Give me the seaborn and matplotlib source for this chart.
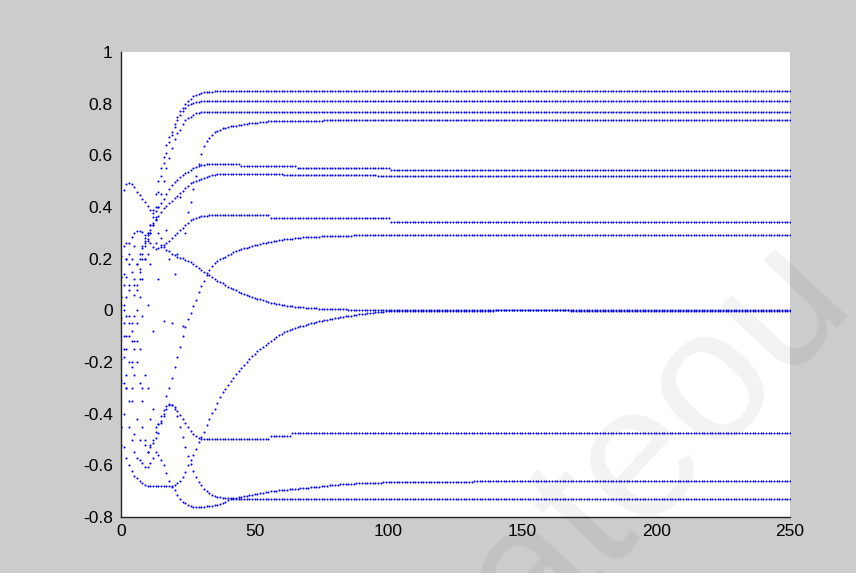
import numpy as np
import pandas as pd
import matplotlib
matplotlib.use("Agg")
import matplotlib.pyplot as plt
from matplotlib.ticker import FuncFormatter
import seaborn as sns

# ---------------- data ----------------
last_step = 250

s1_trans = [0.21, 0.02, -0.15, 0.08, -0.05, 0.12, 0.18, 0.05, 0.22, 0.28, 0.30, 0.33,
            0.39, 0.45, 0.50, 0.55, 0.595, 0.64, 0.67, 0.69, 0.72, 0.75, 0.77, 0.785,
            0.80, 0.81, 0.82, 0.828, 0.835, 0.839, 0.842, 0.844, 0.845, 0.846, 0.847]
s1_hold = [(0.848, 250)]

s2_trans = [-0.03, 0.14, 0.26, -0.1, 0.2, -0.02, 0.1, 0.16, 0.24, 0.2, 0.27,
            0.30, 0.34, 0.40, 0.46, 0.52, 0.57, 0.61, 0.65, 0.68, 0.71, 0.735, 0.755,
            0.772, 0.785, 0.795, 0.80, 0.803, 0.806, 0.808, 0.809, 0.81]
s2_hold = [(0.811, 250)]

s3_trans = [0.13, -0.28, 0.05, 0.18, -0.08, 0.25, 0.08, 0.2, 0.12, 0.25, 0.22, 0.3, 0.33, 0.36,
            0.40, 0.45, 0.50, 0.55, 0.59, 0.63, 0.665, 0.685, 0.70, 0.72, 0.735, 0.743,
            0.75, 0.756, 0.762, 0.765, 0.767]
s3_hold = [(0.768, 250)]

s4_trans = [-0.19, 0.25, -0.3, 0.1, -0.22, 0.06, -0.12, 0.15, -0.02, 0.2, 0.02, 0.18, -0.08,
            0.26, 0.12, 0.28, -0.04, 0.31, 0.2, -0.05, 0.14, 0.22, 0.44, -0.06, 0.30,
            0.38, 0.42, 0.47, 0.52, 0.565, 0.605, 0.635, 0.655, 0.668, 0.68, 0.69, 0.695,
            0.70, 0.705, 0.707, 0.71, 0.712, 0.714, 0.715, 0.717, 0.719, 0.72, 0.722,
            0.724, 0.725, 0.726, 0.727, 0.728, 0.729, 0.73, 0.731]
s4_hold = [(0.733, 75), (0.736, 250)]

s5_trans = [0.05, -0.18, 0.2, -0.05, 0.15, -0.25, 0.0, 0.12, 0.2, 0.26,
            0.30, 0.33, 0.36, 0.385, 0.40, 0.414, 0.43, 0.45, 0.468, 0.485, 0.495, 0.505,
            0.515, 0.524, 0.53, 0.537, 0.545, 0.55, 0.556, 0.56, 0.562, 0.564]
s5_hold = [(0.566, 44), (0.558, 65), (0.552, 100), (0.545, 250)]

s6_trans = [-0.45, 0.0, -0.1, 0.22, -0.2, 0.1, 0.18, 0.22,
            0.25, 0.27, 0.29, 0.31, 0.33, 0.35, 0.365, 0.38, 0.395, 0.405, 0.414, 0.425,
            0.434, 0.443, 0.453, 0.462, 0.472, 0.482, 0.492, 0.498, 0.502, 0.506, 0.51,
            0.514, 0.517, 0.52, 0.522, 0.524, 0.526, 0.527]
s6_hold = [(0.528, 60), (0.524, 95), (0.52, 250)]

s7_trans = [0.02, 0.1, 0.2, 0.26, 0.285, 0.298, 0.306, 0.308, 0.304, 0.29, 0.275, 0.26, 0.245,
            0.238, 0.24, 0.245, 0.252, 0.26, 0.27, 0.28, 0.29, 0.30, 0.31, 0.32, 0.33,
            0.34, 0.348, 0.354, 0.358, 0.361, 0.364, 0.366, 0.367]
s7_hold = [(0.368, 55), (0.358, 100), (0.342, 250)]

s8_trans = [-0.28, -0.05, 0.13, -0.2, -0.3, -0.12, -0.05, -0.15, -0.35, -0.25, -0.3, -0.42,
            -0.38, -0.45, -0.44, -0.43, -0.40,
            -0.33, -0.30, -0.26, -0.218, -0.18, -0.141, -0.10, -0.063, -0.035, -0.012,
            0.015, 0.04, 0.07, 0.095, 0.115, 0.135, 0.156,
            0.17, 0.182, 0.19, 0.197, 0.203, 0.208, 0.214, 0.219, 0.224, 0.228, 0.233,
            0.236, 0.24, 0.243, 0.246, 0.249, 0.252,
            0.254, 0.257, 0.259, 0.262, 0.264, 0.266, 0.268, 0.27, 0.272, 0.274, 0.275,
            0.276, 0.277, 0.278, 0.279, 0.28, 0.281,
            0.282, 0.282, 0.283, 0.284, 0.284, 0.285, 0.285, 0.286, 0.286, 0.287, 0.287,
            0.287, 0.288, 0.288, 0.288, 0.289, 0.289, 0.289, 0.289, 0.29, 0.29, 0.29, 0.29]
s8_hold = [(0.291, 250)]

s9_trans = [0.13,
            0.465, 0.49, 0.494, 0.49, 0.478, 0.459, 0.446, 0.43, 0.42, 0.405, 0.39, 0.375, 0.355,
            0.30, 0.253, 0.245, 0.235, 0.228, 0.22, 0.214, 0.208, 0.204, 0.201, 0.196, 0.19,
            0.186, 0.18, 0.172, 0.165, 0.158, 0.15, 0.143, 0.136, 0.128, 0.12, 0.114, 0.11,
            0.104, 0.098, 0.092,
            0.087, 0.082, 0.077, 0.072, 0.068, 0.064, 0.06, 0.056, 0.052, 0.048, 0.045,
            0.042, 0.039, 0.036, 0.033, 0.03, 0.028, 0.026, 0.024, 0.022, 0.02, 0.018,
            0.017, 0.015, 0.014, 0.013, 0.012, 0.011, 0.01, 0.009,
            0.0085, 0.008, 0.0075, 0.007, 0.0065, 0.006, 0.0055, 0.005, 0.0048, 0.0045,
            0.0042, 0.004, 0.0037, 0.0034, 0.0031, 0.0028, 0.0025, 0.0022, 0.002, 0.0018,
            0.0016, 0.0014, 0.0012, 0.001, 0.0008, 0.0006, 0.0004, 0.0003, 0.0002, 0.0001]
s9_hold = [(0.0, 250)]

s10_trans = [-0.45, -0.53, -0.57, -0.6, -0.62, -0.64, -0.65, -0.662, -0.67, -0.676,
             -0.68, -0.681, -0.68, -0.681, -0.68, -0.68, -0.681, -0.68, -0.68, -0.679,
             -0.675, -0.67, -0.66, -0.645, -0.625, -0.6, -0.58, -0.56, -0.535, -0.51,
             -0.49, -0.47, -0.444, -0.42, -0.399, -0.38, -0.358, -0.334, -0.318, -0.303, -0.288,
             -0.274, -0.26, -0.247, -0.234, -0.222, -0.21, -0.199, -0.188, -0.178, -0.168,
             -0.159, -0.15, -0.142, -0.134, -0.126, -0.118, -0.111, -0.104, -0.097, -0.091,
             -0.085, -0.08, -0.076, -0.072, -0.068, -0.065, -0.062, -0.059, -0.056, -0.053,
             -0.05, -0.048, -0.046, -0.043, -0.041, -0.039, -0.037, -0.035, -0.033, -0.031,
             -0.029, -0.027, -0.025, -0.023, -0.021, -0.02, -0.018, -0.017, -0.015, -0.014,
             -0.013, -0.011, -0.01, -0.009, -0.008, -0.007, -0.006, -0.005, -0.004, -0.003]
s10_hold = [(-0.001, 139), (0.003, 167), (-0.001, 250)]

s11_trans = [-0.27, -0.15, -0.02, -0.35, -0.12, -0.48, -0.2, -0.5, -0.3, -0.52, -0.55, -0.53,
             -0.515, -0.495, -0.476, -0.437, -0.41, -0.38, -0.362, -0.366, -0.375, -0.39,
             -0.405, -0.42, -0.437, -0.452, -0.468, -0.48, -0.488, -0.494, -0.497]
s11_hold = [(-0.498, 55), (-0.488, 63), (-0.476, 250)]

s12_trans = [-0.52, -0.4, -0.3, -0.45, -0.5, -0.55, -0.57, -0.58, -0.592, -0.605, -0.605,
             -0.592, -0.57, -0.55, -0.56, -0.58, -0.60, -0.63, -0.66, -0.685,
             -0.696, -0.715, -0.73, -0.74, -0.745, -0.752, -0.758, -0.76, -0.762, -0.762,
             -0.762, -0.76, -0.758, -0.757, -0.756, -0.755, -0.753, -0.75, -0.745, -0.74,
             -0.736, -0.732, -0.728, -0.726, -0.724, -0.722, -0.72, -0.718, -0.716, -0.714,
             -0.712,
             -0.71, -0.708, -0.706, -0.704, -0.702, -0.70, -0.699, -0.698, -0.697, -0.696,
             -0.695, -0.694, -0.693, -0.692, -0.691, -0.69, -0.689, -0.688, -0.687, -0.686,
             -0.685, -0.684, -0.683, -0.682, -0.681, -0.68, -0.679, -0.678, -0.677, -0.676,
             -0.675, -0.674, -0.674, -0.673, -0.672, -0.672, -0.671, -0.67, -0.67, -0.669,
             -0.669, -0.668, -0.668, -0.668, -0.667, -0.667, -0.667, -0.666, -0.666, -0.666]
s12_hold = [(-0.666, 131), (-0.662, 250)]

s13_trans = [0.05, -0.1, -0.25, -0.02, -0.35, -0.15, -0.42, -0.28, -0.45, -0.5, -0.55, -0.52,
             -0.5, -0.47, -0.44, -0.41, -0.385, -0.37, -0.365, -0.368, -0.38, -0.41, -0.45,
             -0.49, -0.53, -0.565, -0.595, -0.62, -0.645, -0.663, -0.678, -0.69, -0.70,
             -0.708, -0.714, -0.718, -0.721, -0.723, -0.725, -0.726, -0.727, -0.728,
             -0.729, -0.73]
s13_hold = [(-0.731, 250)]

x_ticks = [0, 50, 100, 150, 200, 250]
y_ticks = [-0.8, -0.6, -0.4, -0.2, 0, 0.2, 0.4, 0.6, 0.8, 1]
watermark = "ateou"


def build(trans, holds):
    vals = list(trans)
    for v, end in holds:
        vals += [v] * (end - len(vals) + 1)
    return vals[: last_step + 1]


series = {
    "s1": build(s1_trans, s1_hold), "s2": build(s2_trans, s2_hold),
    "s3": build(s3_trans, s3_hold), "s4": build(s4_trans, s4_hold),
    "s5": build(s5_trans, s5_hold), "s6": build(s6_trans, s6_hold),
    "s7": build(s7_trans, s7_hold), "s8": build(s8_trans, s8_hold),
    "s9": build(s9_trans, s9_hold), "s10": build(s10_trans, s10_hold),
    "s11": build(s11_trans, s11_hold), "s12": build(s12_trans, s12_hold),
    "s13": build(s13_trans, s13_hold),
}
frames = []
for name, vals in series.items():
    frames.append(pd.DataFrame({"step": np.arange(len(vals)), "value": vals, "series": name}))
df = pd.concat(frames, ignore_index=True)

# ---------------- drawing ----------------
sns.set_style("white")
plt.rcParams["font.family"] = ["Liberation Sans", "DejaVu Sans"]

fig = plt.figure(figsize=(8.56, 5.73), dpi=100, facecolor="#cccccc")
ax = fig.add_axes([121 / 856, 1 - 517 / 573, (790 - 121) / 856, (517 - 52) / 573])
ax.set_facecolor("white")

sns.scatterplot(data=df, x="step", y="value", color="#0000ff", s=2.2, linewidth=0,
                marker="o", legend=False, ax=ax)

ax.set_xlim(0, 250)
ax.set_ylim(-0.8, 1)
ax.set_xticks(x_ticks)
ax.set_yticks(y_ticks)
ax.yaxis.set_major_formatter(FuncFormatter(lambda v, p: f"{round(v, 2):g}"))
ax.xaxis.set_major_formatter(FuncFormatter(lambda v, p: f"{v:g}"))
ax.set_xlabel("")
ax.set_ylabel("")
for side in ["top", "right"]:
    ax.spines[side].set_visible(False)
for side in ["left", "bottom"]:
    ax.spines[side].set_color("#222222")
    ax.spines[side].set_linewidth(1.0)
ax.tick_params(axis="both", direction="in", length=5, width=1, color="#222222",
               labelsize=12.5, labelcolor="black")
ax.tick_params(axis="y", pad=6)
ax.tick_params(axis="x", pad=5)

fig.text(0.768, 0.232, watermark, rotation=47, rotation_mode="anchor",
         ha="center", va="center", fontsize=136, color="black", alpha=0.05,
         family=["Liberation Sans", "DejaVu Sans"], zorder=10)

fig.savefig("out.png", dpi=100, facecolor=fig.get_facecolor())
